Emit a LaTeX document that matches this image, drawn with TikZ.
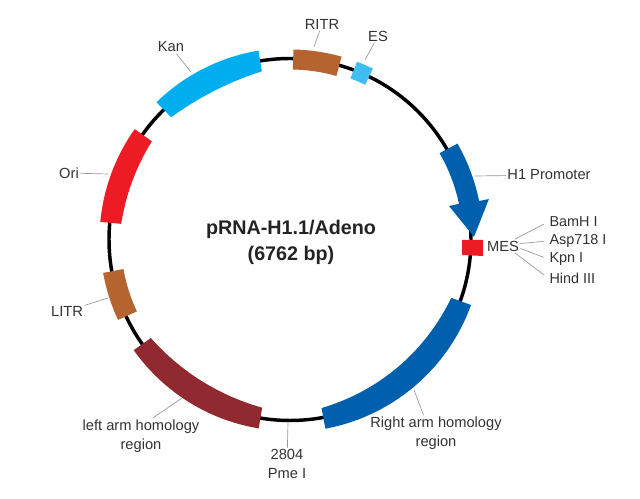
\documentclass[tikz,border=0pt]{standalone}
\usepackage{fontspec}
\setmainfont{Liberation Sans}
\definecolor{kanblue}{RGB}{0,174,239}
\definecolor{esblue}{RGB}{64,190,240}
\definecolor{itrbrown}{RGB}{181,100,48}
\definecolor{armblue}{RGB}{0,96,174}
\definecolor{markred}{RGB}{237,28,36}
\definecolor{armred}{RGB}{145,42,48}
\definecolor{labelgray}{RGB}{50,50,50}
\definecolor{leadergray}{RGB}{150,150,150}
\tikzset{
    tag/.style={font=\fontsize{11}{14}\selectfont, text=labelgray, inner sep=1pt, align=center},
    sitetag/.style={tag, anchor=west, font=\fontsize{10.8}{14}\selectfont},
    leader/.style={draw=leadergray, line width=0.5pt}
}
% colour, start angle, end angle, pull of the inner edge, outer radius
\newcommand{\bigband}[5]{
    \fill[#1] (#2:#5) arc (#2:#3:#5) -- (#3:#5-21)
        .. controls ({#3+(#2-#3)/3}:#4) and ({#3+(#2-#3)*2/3}:#4) .. (#2:#5-21) -- cycle;
}

\begin{document}
\begin{tikzpicture}[x=0.75pt, y=0.75pt]
    \useasboundingbox (0,0) rectangle (640,499);

    \begin{scope}[shift={(290,259.5)}]
        \draw[line width=2.6pt] (0,0) circle (181);

        \bigband{kanblue}{134.2}{99.5}{169.1}{191.5}
        \bigband{markred}{144.6}{174.7}{170.3}{190.5}
        \bigband{armred}{215.3}{260.6}{171.5}{191.5}
        \bigband{armblue}{-19.9}{-79.4}{175.8}{192.5}
        \draw[itrbrown, line width=15pt] (89:180) arc (89:74.2:180);
        \draw[esblue, line width=13.5pt] (69.4:181) arc (69.4:64.1:181);
        \draw[itrbrown, line width=15.5pt] (190.1:179.5) arc (190.1:205.1:179.5);
        \fill[armblue] (29.8:193) arc (29.8:11.5:193) -- (11.5:203) -- (0.8:184)
            -- (11.9:162.5) -- (11.9:172.7) arc (11.9:30:172.7) -- cycle;
    \end{scope}
    \fill[markred] (462,259) -- (483,259) -- (483,243) -- (462,244) -- cycle;

    \node[font=\fontsize{14.8}{19.5}\selectfont\bfseries, text=labelgray!70!black, align=center] (title) at (291,257)
        {pRNA-H1.1/Adeno\\(6762 bp)};

    \node[tag] (kan) at (171,452) {Kan};
    \node[tag] (ritr) at (322,475) {RITR};
    \node[tag] (es) at (378,463) {ES};
    \node[tag] (h1) at (549,324) {H1 Promoter};
    \node[tag] (ori) at (69,326) {Ori};
    \node[tag] (litr) at (67,188) {LITR};
    \node[tag] (leftarm) at (141,63) {left arm homology\\region};
    \node[tag] (pme) at (287,35) {2804\\Pme I};
    \node[tag] (rightarm) at (436,66) {Right arm homology\\region};
    \node[tag] (mes) at (503,253) {MES};
    \node[sitetag] (bam) at (548,277) {BamH I};
    \node[sitetag] (asp) at (548,258) {Asp718 I};
    \node[sitetag] (kpn) at (548,240) {Kpn I};
    \node[sitetag] (hind) at (548,221) {Hind III};

    \coordinate (kanend) at (191,427);
    \coordinate (ritrend) at (314,452);
    \coordinate (esend) at (365,439);
    \coordinate (h1end) at (475,323);
    \coordinate (oriend) at (108,325);
    \coordinate (litrend) at (108,201);
    \coordinate (leftend) at (182,101);
    \coordinate (pmeend) at (288,77);
    \coordinate (rightend) at (414,109);

    \draw[leader] (kan) -- (kanend);
    \draw[leader] (ritr) -- (ritrend);
    \draw[leader] (es) -- (esend);
    \draw[leader] (h1) -- (h1end);
    \draw[leader] (ori) -- (oriend);
    \draw[leader] (litr) -- (litrend);
    \draw[leader] (leftarm.57) -- (leftend);
    \draw[leader] (pme) -- (pmeend);
    \draw[leader] (rightarm.125) -- (rightend);

    \foreach \site/\ang in {bam/30, asp/8, kpn/-8, hind/-30} {
        \draw[leader, shorten >=3.5pt] (mes.\ang) -- (\site.west);
    }
\end{tikzpicture}
\end{document}
